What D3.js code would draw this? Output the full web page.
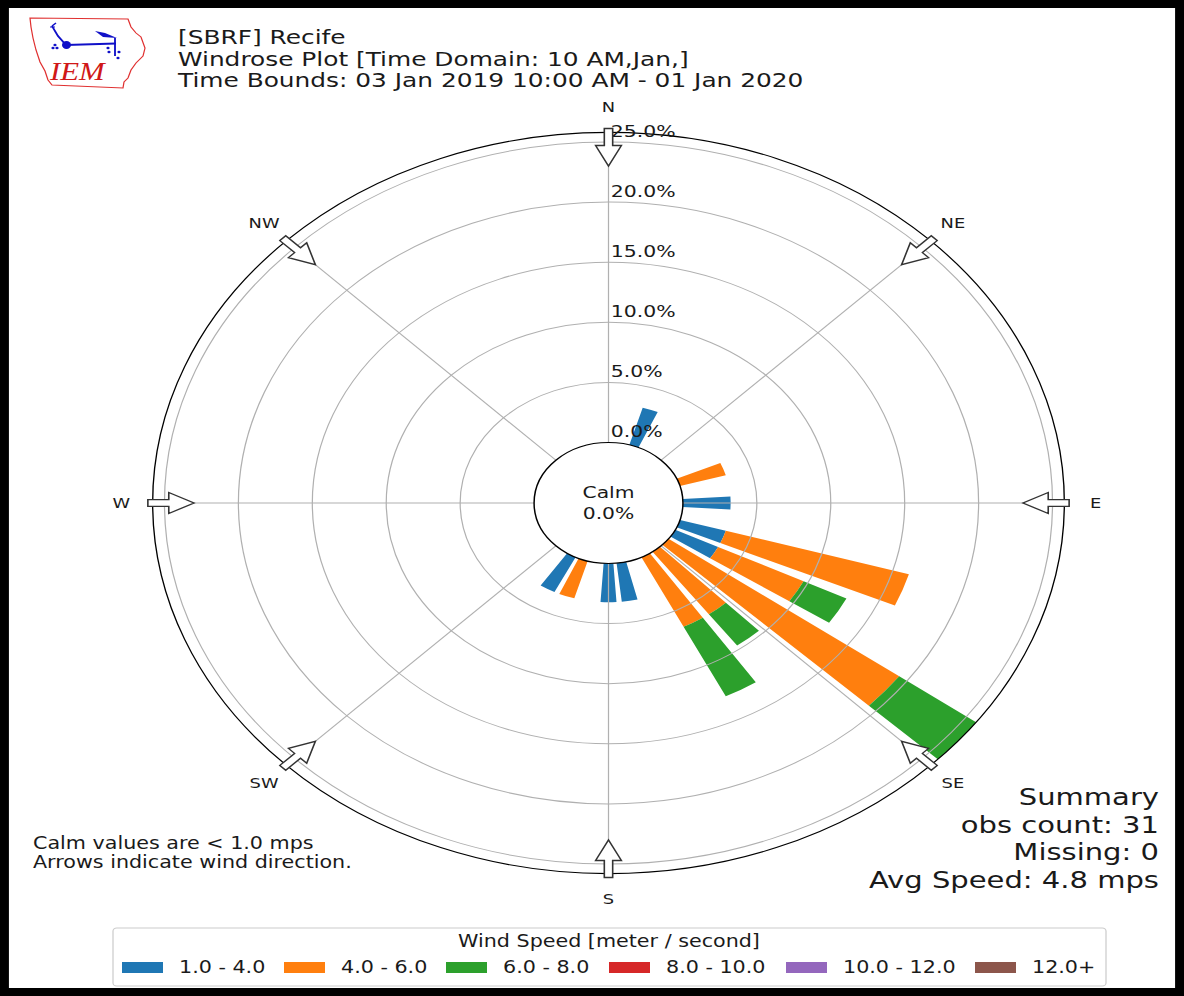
<!DOCTYPE html>
<html>
<head>
<meta charset="utf-8">
<script src="https://cdn.jsdelivr.net/npm/d3@7"></script>
<style>
  html, body { margin: 0; padding: 0; background: #fff; }
  svg { display: block; }
  text { font-family: "DejaVu Sans", sans-serif; fill: #1a1a1a; }
  text.logo-text { font-family: "Liberation Serif", "DejaVu Serif", serif; font-style: italic; fill: #d01818; }
</style>
</head>
<body>
<svg id="chart" width="1184" height="996"></svg>
<script>
// Wind direction bins (degrees from north) that have observations
const directions = [20, 70, 90, 110, 120, 130, 140, 150, 170, 180, 200, 210];

// Frequency (% of observations) per speed bin, one value per direction
const pct1to4   = [3.23, 0, 3.23, 3.23, 3.23, 0, 0, 0, 3.23, 3.23, 0, 3.23];
const pct4to6   = [0, 3.23, 0, 12.90, 6.45, 19.35, 6.45, 6.45, 0, 0, 3.23, 0];
const pct6to8   = [0, 0, 0, 0, 3.23, 6.45, 3.23, 6.45, 0, 0, 0, 0];
const pct8to10  = [0, 0, 0, 0, 0, 0, 0, 0, 0, 0, 0, 0];
const pct10to12 = [0, 0, 0, 0, 0, 0, 0, 0, 0, 0, 0, 0];
const pct12plus = [0, 0, 0, 0, 0, 0, 0, 0, 0, 0, 0, 0];

const speedLabels = ["1.0 - 4.0", "4.0 - 6.0", "6.0 - 8.0", "8.0 - 10.0", "10.0 - 12.0", "12.0+"];
const speedColors = ["#1f77b4", "#ff7f0e", "#2ca02c", "#d62728", "#9467bd", "#8c564b"];

const radialTicks = [0, 5, 10, 15, 20, 25];
const compassNames = ["N", "NE", "E", "SE", "S", "SW", "W", "NW"];
const compassAngles = [0, 45, 90, 135, 180, 225, 270, 315];

const titleLines = [
  "[SBRF] Recife",
  "Windrose Plot [Time Domain: 10 AM,Jan,]",
  "Time Bounds: 03 Jan 2019 10:00 AM - 01 Jan 2020"
];
const summaryLines = ["Summary", "obs count: 31", "Missing: 0", "Avg Speed: 4.8 mps"];
const calmPct = 0.0;
const noteLines = ["Calm values are < 1.0 mps", "Arrows indicate wind direction."];

// ---------------------------------------------------------------
const W = 1184, H = 996, KX = 1.23;
const VW = W / KX;             // drawing units are stretched horizontally to fill the page
const px = x => x / KX;         // page x -> drawing units

const svg = d3.select("#chart")
  .attr("viewBox", `0 0 ${VW} ${H}`)
  .attr("preserveAspectRatio", "none");

svg.append("rect").attr("width", VW).attr("height", H).attr("fill", "#fff");

const cx = px(608.5), cy = 503;
const seriesKeys = speedLabels;
const seriesVals = [pct1to4, pct4to6, pct6to8, pct8to10, pct10to12, pct12plus];
const rows = directions.map((d, i) => {
  const o = { dir: d };
  seriesKeys.forEach((k, j) => o[k] = seriesVals[j][i]);
  return o;
});
const stacked = d3.stack().keys(seriesKeys)(rows);
const rMax = d3.max(rows, r => d3.sum(seriesKeys, k => r[k]));

const r = d3.scaleLinear().domain([0, 25]).range([60.5, 361]);
const rad = deg => deg * Math.PI / 180;
const halfWidth = 3.75;  // degrees

const g = svg.append("g").attr("transform", `translate(${cx},${cy})`);

// bars
const arc = d3.arc();
stacked.forEach((layer, j) => {
  g.append("g").selectAll("path")
    .data(layer.filter(d => d[1] - d[0] > 0))
    .join("path")
    .attr("d", d => arc({
      innerRadius: r(d[0]), outerRadius: r(d[1]),
      startAngle: rad(d.data.dir - halfWidth), endAngle: rad(d.data.dir + halfWidth)
    }))
    .attr("fill", speedColors[j]);
});

// grid: spokes and rings
const grid = g.append("g").attr("fill", "none").attr("stroke", "#b0b0b0").attr("stroke-width", 1);
compassAngles.forEach(a => {
  grid.append("line")
    .attr("x1", 0).attr("y1", 0)
    .attr("x2", r(rMax) * Math.sin(rad(a))).attr("y2", -r(rMax) * Math.cos(rad(a)));
});
radialTicks.filter(t => t > 0).forEach(t => {
  grid.append("circle").attr("r", r(t));
});

// axes edge
g.append("circle").attr("r", r(rMax)).attr("fill", "none").attr("stroke", "#000").attr("stroke-width", 1.1);

// radial tick labels
g.selectAll("text.rt").data(radialTicks).join("text")
  .attr("class", "rt")
  .attr("x", 1.8).attr("y", t => -r(t) - 11)
  .attr("dominant-baseline", "central")
  .attr("font-size", 16.6)
  .text(t => t.toFixed(1) + "%");

// calm circle
g.append("circle").attr("r", r(0)).attr("fill", "#fff").attr("stroke", "#000").attr("stroke-width", 1.2);
g.append("text").attr("x", 0).attr("y", -11).attr("text-anchor", "middle")
  .attr("dominant-baseline", "central").attr("font-size", 16.5).text("Calm");
g.append("text").attr("x", 0).attr("y", 10).attr("text-anchor", "middle")
  .attr("dominant-baseline", "central").attr("font-size", 16.5).text(calmPct.toFixed(1) + "%");

// direction arrows at the rim, pointing inward
const arrowPts = [[374.5, -3.4], [357.5, -3.4], [357.5, -10.5], [337, 0], [357.5, 10.5], [357.5, 3.4], [374.5, 3.4]];
compassAngles.forEach(a => {
  const t = rad(a), s = Math.sin(t), c = Math.cos(t);
  const pts = arrowPts.map(([rr, p]) => [rr * s + p * c, -rr * c + p * s]);
  g.append("path")
    .attr("d", d3.line()(pts) + "Z")
    .attr("fill", "#fff").attr("stroke", "#333").attr("stroke-width", 1.3)
    .attr("stroke-linejoin", "miter");
});

// compass labels
g.selectAll("text.cl").data(compassNames).join("text")
  .attr("class", "cl")
  .attr("x", (d, i) => 396 * Math.sin(rad(compassAngles[i])))
  .attr("y", (d, i) => -396 * Math.cos(rad(compassAngles[i])))
  .attr("text-anchor", "middle").attr("dominant-baseline", "central")
  .attr("font-size", 14.5)
  .text(d => d);

// title
svg.selectAll("text.title").data(titleLines).join("text")
  .attr("class", "title")
  .attr("x", px(178)).attr("y", (d, i) => 37 + i * 21.5)
  .attr("dominant-baseline", "central")
  .attr("font-size", 20.2)
  .text(d => d);

// summary block
svg.selectAll("text.sum").data(summaryLines).join("text")
  .attr("class", "sum")
  .attr("x", px(1159)).attr("y", (d, i) => 797 + i * 27.4)
  .attr("text-anchor", "end").attr("dominant-baseline", "central")
  .attr("font-size", 23.6)
  .text(d => d);

// notes
svg.selectAll("text.note").data(noteLines).join("text")
  .attr("class", "note")
  .attr("x", px(33)).attr("y", (d, i) => 843 + i * 19.5)
  .attr("dominant-baseline", "central")
  .attr("font-size", 16.8)
  .text(d => d);

// legend
const lg = svg.append("g");
lg.append("rect")
  .attr("x", px(113)).attr("y", 928).attr("width", px(1106) - px(113)).attr("height", 58)
  .attr("rx", 3).attr("fill", "#fff").attr("stroke", "#cccccc").attr("stroke-width", 1);
lg.append("text").attr("x", px(609)).attr("y", 941).attr("text-anchor", "middle")
  .attr("dominant-baseline", "central").attr("font-size", 16.8).text("Wind Speed [meter / second]");
const legendPatchX = [122, 284, 446, 609, 786, 975];
speedLabels.forEach((lab, i) => {
  lg.append("rect").attr("x", px(legendPatchX[i])).attr("y", 962)
    .attr("width", px(163) - px(122)).attr("height", 11).attr("fill", speedColors[i]);
  lg.append("text").attr("x", px(legendPatchX[i] + 57)).attr("y", 967.5)
    .attr("dominant-baseline", "central").attr("font-size", 16.8).text(lab);
});

// IEM logo
const logo = svg.append("g");
const iowa = [[30,18],[128,19],[131,27],[136,33],[141,37],[145,48],[143,56],[136,63],[131,70],[128,78],[124,82],[123,88],[52,85],[48,80],[45,71],[40,62],[36,50],[33,38],[31,27]];
logo.append("path").attr("d", d3.line()(iowa.map(([x, y]) => [px(x), y])) + "Z")
  .attr("fill", "none").attr("stroke", "#e03030").attr("stroke-width", 1);
const blue = "#1010c8";
logo.append("line").attr("x1", px(66)).attr("y1", 45).attr("x2", px(116)).attr("y2", 43.5)
  .attr("stroke", blue).attr("stroke-width", 2);
logo.append("ellipse").attr("cx", px(66.5)).attr("cy", 45).attr("rx", px(4.5)).attr("ry", 4).attr("fill", blue);
logo.append("path").attr("d", `M${px(52)},26 L${px(58)},36 L${px(66)},45`).attr("fill", "none").attr("stroke", blue).attr("stroke-width", 1.6);
logo.append("path").attr("d", `M${px(50)},27 L${px(55)},27 M${px(52)},26 L${px(56)},23`).attr("fill", "none").attr("stroke", blue).attr("stroke-width", 1.2);
logo.append("path").attr("d", `M${px(95)},31 L${px(105)},33 L${px(117)},38 L${px(103)},37 Z`).attr("fill", blue);
logo.append("line").attr("x1", px(115)).attr("y1", 38).attr("x2", px(115)).attr("y2", 56).attr("stroke", blue).attr("stroke-width", 1.5);
[[55,45],[57,48],[53,48],[109,52],[119,52],[118,58],[108,48]].forEach(([x, y]) => {
  logo.append("circle").attr("cx", px(x)).attr("cy", y).attr("r", 1.3).attr("fill", blue);
});
logo.append("text").attr("class", "logo-text").attr("x", px(50)).attr("y", 80)
  .attr("font-size", 25).text("IEM");

// page frame
svg.append("rect").attr("x", px(4)).attr("y", 4).attr("width", px(1176)).attr("height", 988)
  .attr("fill", "none").attr("stroke", "#000").attr("stroke-width", 8);
</script>
</body>
</html>
